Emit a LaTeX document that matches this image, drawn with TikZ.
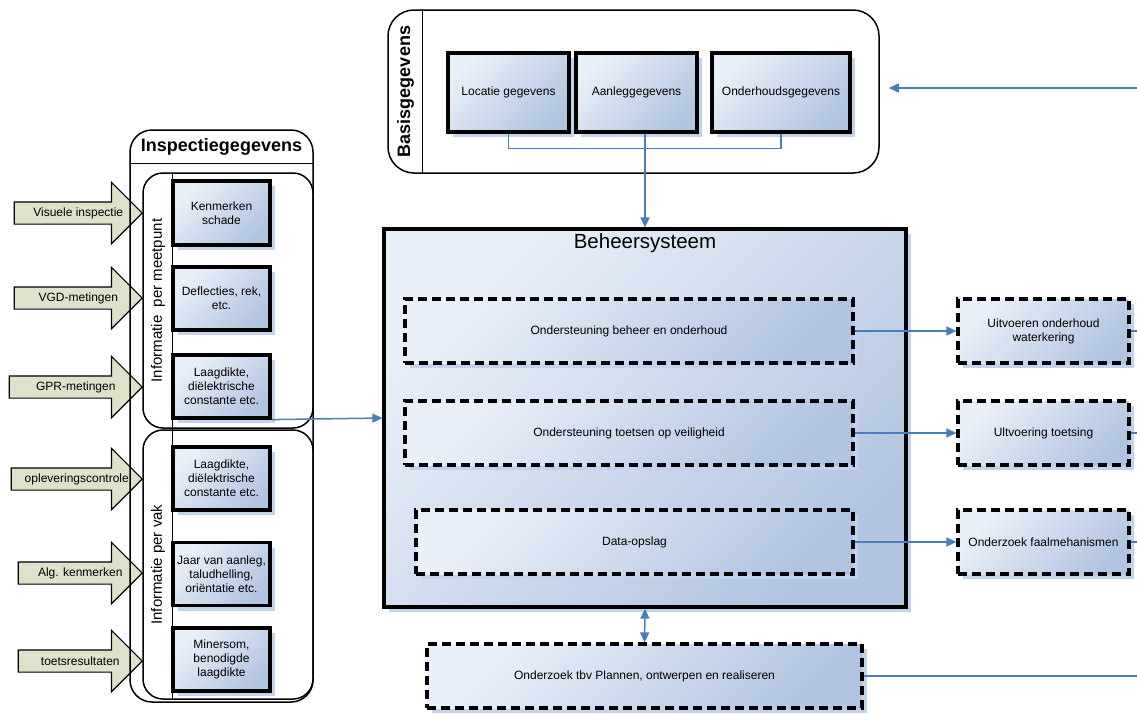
\documentclass[tikz,border=0pt]{standalone}
\usepackage{fontspec}
\setmainfont{Liberation Sans}
\usetikzlibrary{arrows.meta,shapes.arrows,positioning,calc,shadows,patterns}
\definecolor{boxlight}{HTML}{EAF0F9}
\definecolor{boxdark}{HTML}{B2C5E0}
\definecolor{shadowblue}{HTML}{C3D3EC}
\definecolor{linkblue}{HTML}{4A7EBB}
\definecolor{olivefill}{HTML}{DFE1CB}

\begin{document}
\begin{tikzpicture}[x=1pt, y=-1pt,
    shd/.style={general shadow={shadow xshift=5pt, shadow yshift=-5pt, fill=shadowblue}},
    grad/.style={top color=boxlight, bottom color=boxdark, shading angle=45},
    dbox/.style={draw, line width=3.2pt, shd, grad, align=center, font=\fontsize{12}{14}\selectfont, inner sep=2pt},
    dsh/.style={dbox, dash pattern=on 9pt off 5pt},
    grp/.style={draw, line width=1.5pt, rounded corners=22pt},
    side/.style={rotate=90, font=\fontsize{15}{18}\selectfont},
    blk/.style={single arrow, draw, line width=1.2pt, fill=olivefill, single arrow head extend=19.5pt, inner ysep=10.5pt, inner xsep=0pt, text height=0pt, text depth=0pt, anchor=tip},
    lbl/.style={font=\fontsize{12}{14}\selectfont},
    lnk/.style={draw=linkblue, line width=1.5pt},
    arr/.style={lnk, -{Triangle[length=10pt, width=9pt]}}
]
\useasboundingbox (0,0) rectangle (1137,713);

\node[blk, minimum height=128] (avis) at (143,213) {};
\node[blk, minimum height=128] (avgd) at (143,298) {};
\node[blk, minimum height=133] (agpr) at (143,387) {};
\node[blk, minimum height=131] (aopl) at (143,479) {};
\node[blk, minimum height=124] (aalg) at (143,573) {};
\node[blk, minimum height=124] (atoe) at (143,661) {};
\node[lbl] (tvis) at ($(avis.tail)!.5!(avis.tip)$) {Visuele inspectie};
\node[lbl] (tvgd) at ($(avgd.tail)!.5!(avgd.tip)$) {VGD-metingen};
\node[lbl] (tgpr) at ($(agpr.tail)!.5!(agpr.tip)$) {GPR-metingen};
\node[lbl] (topl) at ($(aopl.tail)!.5!(aopl.tip)$) {opleveringscontrole};
\node[lbl] (talg) at ($(aalg.tail)!.5!(aalg.tip)$) {Alg. kenmerken};
\node[lbl] (ttoe) at ($(atoe.tail)!.5!(atoe.tip)$) {toetsresultaten};

\node[grp, minimum width=183, minimum height=572] (insp) at (221.5,416) {};
\node[font=\bfseries\fontsize{18}{21}\selectfont] (insptitle) at (221.5,147) {Inspectiegegevens};
\draw[line width=1.5pt] ([yshift=-34pt]insp.north west) -- ([yshift=-34pt]insp.north east);
\node[grp, rounded corners=20pt, minimum width=170, minimum height=255] (meet) at (228,300.5) {};
\draw[line width=1.5pt] ([xshift=30pt]meet.north west) -- ([xshift=30pt]meet.south west);
\node[side] (meetlbl) at (158,300.5) {Informatie\ \ per meetpunt};
\node[grp, rounded corners=20pt, minimum width=170, minimum height=269] (vak) at (228,564.5) {};
\draw[line width=1.5pt] ([xshift=30pt]vak.north west) -- ([xshift=30pt]vak.south west);
\node[side] (vaklbl) at (158,564.5) {Informatie per vak};

\node[dbox, minimum width=97, minimum height=64] (kenm) at (221.5,213) {Kenmerken\\schade};
\node[dbox, minimum width=97, minimum height=63] (defl) at (221.5,298.5) {Deflecties, rek,\\etc.};
\node[dbox, minimum width=97, minimum height=63] (laag1) at (221.5,386.5) {Laagdikte,\\diëlektrische\\constante etc.};
\node[dbox, minimum width=97, minimum height=63] (laag2) at (221.5,478.5) {Laagdikte,\\diëlektrische\\constante etc.};
\node[dbox, minimum width=97, minimum height=63] (jaar) at (221.5,574) {Jaar van aanleg,\\taludhelling,\\oriëntatie etc.};
\node[dbox, minimum width=97, minimum height=63] (miner) at (221.5,659.5) {Minersom,\\benodigde\\laagdikte};

\node[grp, rounded corners=26pt, minimum width=491, minimum height=163] (basis) at (633.5,91.5) {};
\draw[line width=1.5pt] ([xshift=35pt]basis.north west) -- ([xshift=35pt]basis.south west);
\node[side, font=\bfseries\fontsize{18}{21}\selectfont] (basislbl) at (405.5,91.5) {Basisgegevens};
\node[dbox, minimum width=121, minimum height=79] (loc) at (508.5,92.5) {Locatie gegevens};
\node[dbox, minimum width=121, minimum height=79] (aan) at (636.5,92.5) {Aanleggegevens};
\node[dbox, minimum width=138, minimum height=79] (ond) at (781,92.5) {Onderhoudsgegevens};

\node[dbox, minimum width=522, minimum height=378] (beheer) at (645,418) {};
\node[font=\fontsize{20.5}{24}\selectfont] (behtitle) at (645,243) {Beheersysteem};
\node[dsh, minimum width=448, minimum height=64] (ob) at (629,331) {Ondersteuning beheer en onderhoud};
\node[dsh, minimum width=448, minimum height=64] (ot) at (629,433) {Ondersteuning toetsen op veiligheid};
\node[dsh, minimum width=437, minimum height=64] (ds) at (634.5,542) {Data-opslag};

\node[dsh, minimum width=171, minimum height=64] (uo) at (1043.5,331) {Uitvoeren onderhoud\\waterkering};
\node[dsh, minimum width=171, minimum height=64] (ut) at (1043.5,433) {Ultvoering toetsing};
\node[dsh, minimum width=171, minimum height=64] (of) at (1043.5,542) {Onderzoek faalmehanismen};
\node[dsh, minimum width=435, minimum height=64] (plan) at (644.5,676) {Onderzoek tbv Plannen, ontwerpen en realiseren};

\coordinate (rand) at (1137,88);

\draw[lnk] (loc.south) -- ++(0,15) -| (ond.south);
\draw[arr] (aan.south -| beheer.north) -- (beheer.north);
\draw[arr, shorten >=9pt] (rand) -- (basis.east |- rand);
\draw[arr] (laag1.south east) -- (beheer.west);
\draw[arr] (ob.east) -- (uo.west);
\draw[arr] (ot.east) -- (ut.west);
\draw[arr] (ds.east) -- (of.west);
\draw[lnk] (uo.east) -- (uo.east -| rand);
\draw[lnk] (ut.east) -- (ut.east -| rand);
\draw[lnk] (of.east) -- (of.east -| rand);
\draw[lnk, {Triangle[length=10pt, width=9pt]}-{Triangle[length=10pt, width=9pt]}] (beheer.south) -- (plan.north);
\draw[lnk] (plan.east) -- (plan.east -| rand);
\end{tikzpicture}
\end{document}
